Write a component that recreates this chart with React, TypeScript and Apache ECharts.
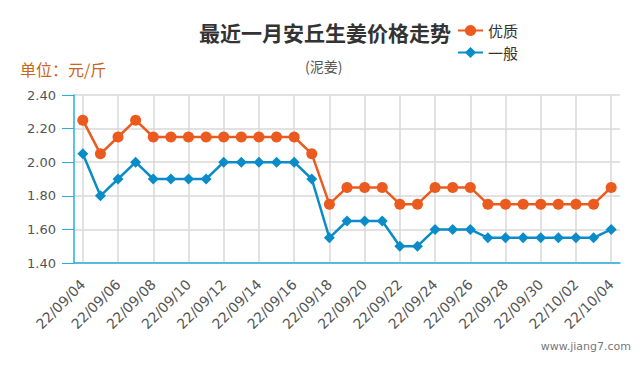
import React, { useEffect, useRef } from "react";
import * as echarts from "echarts";

const dates = [
  "22/09/04", "22/09/05", "22/09/06", "22/09/07", "22/09/08", "22/09/09", "22/09/10", "22/09/11",
  "22/09/12", "22/09/13", "22/09/14", "22/09/15", "22/09/16", "22/09/17", "22/09/18", "22/09/19",
  "22/09/20", "22/09/21", "22/09/22", "22/09/23", "22/09/24", "22/09/25", "22/09/26", "22/09/27",
  "22/09/28", "22/09/29", "22/09/30", "22/10/01", "22/10/02", "22/10/03", "22/10/04",
];
const premium = [
  2.25, 2.05, 2.15, 2.25, 2.15, 2.15, 2.15, 2.15, 2.15, 2.15, 2.15, 2.15, 2.15, 2.05, 1.75, 1.85,
  1.85, 1.85, 1.75, 1.75, 1.85, 1.85, 1.85, 1.75, 1.75, 1.75, 1.75, 1.75, 1.75, 1.75, 1.85,
];
const normal = [
  2.05, 1.8, 1.9, 2.0, 1.9, 1.9, 1.9, 1.9, 2.0, 2.0, 2.0, 2.0, 2.0, 1.9, 1.55, 1.65,
  1.65, 1.65, 1.5, 1.5, 1.6, 1.6, 1.6, 1.55, 1.55, 1.55, 1.55, 1.55, 1.55, 1.55, 1.6,
];
const seriesNames = ["优质", "一般"];

export default function App() {
  const ref = useRef<HTMLDivElement>(null);
  useEffect(() => {
    if (!ref.current) return;
    const chart = echarts.init(ref.current, null, { renderer: "svg" });
    const font = "'Noto Sans CJK SC', 'Open Sans', sans-serif";
    const latin = "'DejaVu Sans', Verdana, sans-serif";
    chart.setOption({
      animation: false,
      textStyle: { fontFamily: font },
      title: [
        {
          text: "最近一月安丘生姜价格走势",
          left: 194,
          top: 16,
          textStyle: { fontSize: 21, fontWeight: "bold", color: "#333", fontFamily: font },
        },
        {
          text: "(泥姜)",
          left: 300,
          top: 54,
          textStyle: { fontSize: 14, fontWeight: "normal", color: "#555", fontFamily: font },
        },
      ],
      legend: {
        orient: "vertical",
        left: 457,
        top: 23,
        padding: 0,
        itemGap: 7,
        itemWidth: 25,
        itemHeight: 14,
        textStyle: { fontSize: 15, color: "#333", fontFamily: font, lineHeight: 15 },
        data: seriesNames,
      },
      graphic: [
        {
          type: "text",
          left: 20,
          top: 61,
          style: { text: "单位：元/斤", fontSize: 16, fill: "#cc641c", fontFamily: font },
        },
        {
          type: "text",
          right: 9,
          top: 341,
          style: { text: "www.jiang7.com", fontSize: 11, fill: "#777", fontFamily: latin },
        },
      ],
      grid: { left: 74, right: 20, top: 95, bottom: 107 },
      xAxis: {
        type: "category",
        data: dates,
        boundaryGap: true,
        axisLine: { lineStyle: { color: "#29aee0", width: 1.5 } },
        axisTick: { alignWithLabel: true, interval: 1, length: 10, lineStyle: { color: "#29aee0" } },
        axisLabel: { interval: 1, rotate: 45, fontSize: 14, color: "#555", margin: 19, fontFamily: latin },
        splitLine: { show: true, interval: 1, alignWithLabel: true, lineStyle: { color: "#d8d8d8", width: 1.5 } },
      },
      yAxis: {
        type: "value",
        min: 1.4,
        max: 2.4,
        interval: 0.2,
        axisLine: { show: true, lineStyle: { color: "#29aee0", width: 1.5 } },
        axisTick: { show: true, length: 12, lineStyle: { color: "#29aee0" } },
        axisLabel: { fontSize: 13, color: "#555", margin: 18, fontFamily: latin, formatter: (v: number) => v.toFixed(2) },
        splitLine: { lineStyle: { color: "#d8d8d8", width: 1.5 } },
      },
      series: [
        {
          name: seriesNames[0],
          type: "line",
          data: premium,
          symbol: "circle",
          symbolSize: 11,
          itemStyle: { color: "#eb5a1e" },
          lineStyle: { color: "#eb5a1e", width: 2.5 },
        },
        {
          name: seriesNames[1],
          type: "line",
          data: normal,
          symbol: "diamond",
          symbolSize: 11,
          itemStyle: { color: "#0a8cc8" },
          lineStyle: { color: "#0a8cc8", width: 2.5 },
        },
      ],
    });
    return () => chart.dispose();
  }, []);
  return <div ref={ref} style={{ width: 640, height: 370, margin: -8 }} />;
}
